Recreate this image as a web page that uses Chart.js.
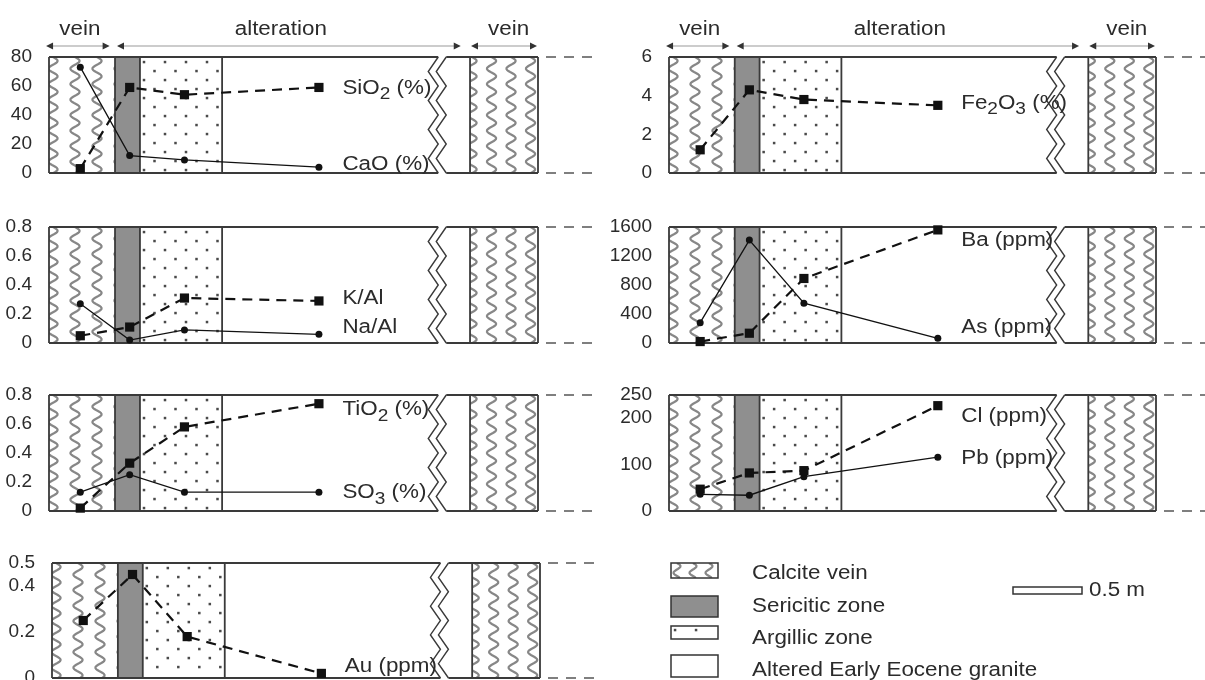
<!DOCTYPE html>
<html>
<head>
<meta charset="utf-8">
<script src="https://cdn.jsdelivr.net/npm/chart.js@4.4.1/dist/chart.umd.min.js"></script>
<style>
html, body { margin: 0; padding: 0; background: #fff; overflow: hidden; }
#wrap { position: relative; width: 1205px; height: 680px; overflow: hidden; }
canvas { position: absolute; }
</style>
</head>
<body>
<div id="wrap"></div>
<script>
// ===== data =====
// sample position along the traverse (0..100 across each panel)
const SAMPLE_X = [6.4, 16.5, 27.7, 55.2];

const SIO2 = [3, 59, 54, 59];
const CAO = [73, 12, 9, 4];
const FE2O3 = [1.2, 4.3, 3.8, 3.5];
const K_AL = [0.05, 0.11, 0.31, 0.29];
const NA_AL = [0.27, 0.02, 0.09, 0.06];
const BA = [20, 135, 890, 1560];
const AS = [280, 1420, 550, 65];
const TIO2 = [0.02, 0.33, 0.58, 0.74];
const SO3 = [0.13, 0.25, 0.13, 0.13];
const CL = [47, 82, 87, 227];
const PB = [36, 34, 74, 116];
const AU = [0.25, 0.45, 0.18, 0.02];

const TICKS_SIO2 = [0, 20, 40, 60, 80];
const TICKS_RATIO = [0, 0.2, 0.4, 0.6, 0.8];
const TICKS_AU = [0, 0.2, 0.4, 0.5];
const TICKS_FE = [0, 2, 4, 6];
const TICKS_BA = [0, 400, 800, 1200, 1600];
const TICKS_CL = [0, 100, 200, 250];

const HEADER = ['vein', 'alteration', 'vein'];
const LEGEND = ['Calcite vein', 'Sericitic zone', 'Argillic zone', 'Altered Early Eocene granite'];
const SCALE_TEXT = '0.5 m';

// ===== layout / style =====
const FONT = "'Liberation Sans', Arial, sans-serif";
const TXT = '#2b2b2b';
const SX = 1.12; // the scanned lettering is a bit wide
const ZONE = { veinEnd: 13.5, serEnd: 18.6, argEnd: 35.4, brk: 79.6, vein2: 86.1, end: 100 };
const BRK_GAP = 8, BRK_AMP = 10, BRK_N = 8;
const LABEL_X = 60;
const HEAD_X = [6.3, 47.4, 94];
const HEAD_ARROWS = [[-0.6, 12.4], [13.9, 84.2], [86.3, 99.8]];

const PANELS = [
  { box: [0, 0, 600, 186], area: [49, 57, 538, 173], yMax: 80, ticks: TICKS_SIO2, header: true,
    series: [[SIO2, 'sq'], [CAO, 'ci']],
    labels: [[[['SiO'], ['2', 1], [' (%)']], 58.6], [[['CaO (%)']], 6.2]] },
  { box: [0, 197, 600, 159], area: [49, 227, 538, 343], yMax: 0.8, ticks: TICKS_RATIO,
    series: [[K_AL, 'sq'], [NA_AL, 'ci']],
    labels: [[[['K/Al']], 0.31], [[['Na/Al']], 0.11]] },
  { box: [0, 365, 600, 159], area: [49, 395, 538, 511], yMax: 0.8, ticks: TICKS_RATIO,
    series: [[TIO2, 'sq'], [SO3, 'ci']],
    labels: [[[['TiO'], ['2', 1], [' (%)']], 0.7], [[['SO'], ['3', 1], [' (%)']], 0.125]] },
  { box: [0, 533, 600, 160], area: [52, 563, 540, 678], yMax: 0.5, ticks: TICKS_AU,
    series: [[AU, 'sq']],
    labels: [[[['Au (ppm)']], 0.048]] },
  { box: [600, 0, 605, 186], area: [669, 57, 1156, 173], yMax: 6, ticks: TICKS_FE, header: true,
    series: [[FE2O3, 'sq']],
    labels: [[[['Fe'], ['2', 1], ['O'], ['3', 1], [' (%)']], 3.6]] },
  { box: [600, 197, 605, 159], area: [669, 227, 1156, 343], yMax: 1600, ticks: TICKS_BA,
    series: [[BA, 'sq'], [AS, 'ci']],
    labels: [[[['Ba (ppm)']], 1420], [[['As (ppm)']], 220]] },
  { box: [600, 365, 605, 159], area: [669, 395, 1156, 511], yMax: 250, ticks: TICKS_CL,
    series: [[CL, 'sq'], [PB, 'ci']],
    labels: [[[['Cl (ppm)']], 204], [[['Pb (ppm)']], 113]] }
];

// ===== drawing helpers =====
function richText(ctx, parts, x, y, size, align) {
  ctx.save();
  ctx.translate(x, y);
  ctx.scale(SX, 1);
  ctx.fillStyle = TXT;
  ctx.textBaseline = 'middle';
  ctx.textAlign = 'left';
  const fontOf = sub => (sub ? Math.round(size * 0.85) : size) + 'px ' + FONT;
  let w = 0;
  parts.forEach(([s, sub]) => { ctx.font = fontOf(sub); w += ctx.measureText(s).width; });
  let cx = align === 'center' ? -w / 2 : 0;
  parts.forEach(([s, sub]) => {
    ctx.font = fontOf(sub);
    ctx.fillText(s, cx, sub ? size * 0.32 : 0);
    cx += ctx.measureText(s).width;
  });
  ctx.restore();
}

function drawWaves(ctx, x0, x1, t, b, step, start, amp, period) {
  ctx.save();
  ctx.beginPath(); ctx.rect(x0, t, x1 - x0, b - t); ctx.clip();
  ctx.strokeStyle = '#878787'; ctx.lineWidth = 2.2;
  for (let cx = x0 + start; cx < x1 + 8; cx += step) {
    ctx.beginPath();
    for (let y = t; y <= b; y += 1) {
      const x = cx + amp * Math.sin((y - t) / period * 2 * Math.PI);
      if (y === t) ctx.moveTo(x, y); else ctx.lineTo(x, y);
    }
    ctx.stroke();
  }
  ctx.restore();
}

function drawDots(ctx, x0, x1, t, b) {
  ctx.fillStyle = '#4a4a4a';
  let row = 0;
  for (let y = t + 5; y < b - 2; y += 9, row++) {
    for (let x = x0 + 4 + (row % 2) * 10.5; x < x1 - 2; x += 21) ctx.fillRect(x - 1.2, y - 1.2, 2.5, 2.5);
  }
}

function zigzag(ctx, x, t, b) {
  ctx.beginPath();
  for (let i = 0; i <= BRK_N; i++) {
    const y = t + (b - t) * i / BRK_N;
    const xx = x - (i % 2 ? BRK_AMP : 0);
    if (i === 0) ctx.moveTo(xx, y); else ctx.lineTo(xx, y);
  }
  ctx.stroke();
}

function arrow(ctx, x0, x1, y) {
  ctx.strokeStyle = '#999'; ctx.lineWidth = 1;
  ctx.beginPath(); ctx.moveTo(x0 + 4, y); ctx.lineTo(x1 - 4, y); ctx.stroke();
  ctx.fillStyle = '#333';
  ctx.beginPath(); ctx.moveTo(x0, y); ctx.lineTo(x0 + 7, y - 3.5); ctx.lineTo(x0 + 7, y + 3.5); ctx.fill();
  ctx.beginPath(); ctx.moveTo(x1, y); ctx.lineTo(x1 - 7, y - 3.5); ctx.lineTo(x1 - 7, y + 3.5); ctx.fill();
}

function panelPlugin(p) {
  return {
    id: 'zones',
    beforeDatasetsDraw(chart) {
      const { ctx, chartArea: a, scales: { x } } = chart;
      const px = v => x.getPixelForValue(v);
      const t = a.top, b = a.bottom;
      const xv = px(0), xs = px(ZONE.veinEnd), xa = px(ZONE.serEnd), xg = px(ZONE.argEnd);
      const xb = px(ZONE.brk), xr = px(ZONE.vein2), xe = px(ZONE.end);
      ctx.save();
      drawWaves(ctx, xv, xs, t, b, 22, 4, 4.6, 15.5);
      drawWaves(ctx, xr, xe, t, b, 19.5, 2, 4.6, 15.5);
      ctx.fillStyle = '#8f8f8f';
      ctx.fillRect(xs, t, xa - xs, b - t);
      drawDots(ctx, xa, xg, t, b);
      // frame with the break
      ctx.strokeStyle = '#3a3a3a'; ctx.lineWidth = 1.8;
      ctx.beginPath();
      ctx.moveTo(xv, t); ctx.lineTo(xb, t); ctx.moveTo(xb + BRK_GAP, t); ctx.lineTo(xe, t);
      ctx.moveTo(xv, b); ctx.lineTo(xb, b); ctx.moveTo(xb + BRK_GAP, b); ctx.lineTo(xe, b);
      [xv, xs, xa, xg, xr, xe].forEach(xx => { ctx.moveTo(xx, t); ctx.lineTo(xx, b); });
      ctx.stroke();
      ctx.lineWidth = 1.4;
      zigzag(ctx, xb, t, b);
      zigzag(ctx, xb + BRK_GAP, t, b);
      // dashed guides to the right
      ctx.strokeStyle = '#555'; ctx.lineWidth = 1.5; ctx.setLineDash([10, 8]);
      ctx.beginPath();
      ctx.moveTo(xe + 8, t); ctx.lineTo(chart.width, t);
      ctx.moveTo(xe + 8, b); ctx.lineTo(chart.width, b);
      ctx.stroke();
      ctx.restore();
    },
    afterDatasetsDraw(chart) {
      const { ctx, scales: { x, y } } = chart;
      p.labels.forEach(([parts, v]) => richText(ctx, parts, x.getPixelForValue(LABEL_X), y.getPixelForValue(v), 20));
      if (p.header) {
        HEADER.forEach((s, i) => richText(ctx, [[s]], x.getPixelForValue(HEAD_X[i]), 29, 20, 'center'));
        HEAD_ARROWS.forEach(([a0, a1]) => arrow(ctx, x.getPixelForValue(a0), x.getPixelForValue(a1), 46));
      }
    }
  };
}

function mkSeries(vals, kind) {
  const sq = kind === 'sq';
  return {
    data: SAMPLE_X.map((x, i) => ({ x, y: vals[i] })),
    borderColor: '#111', backgroundColor: '#111',
    borderWidth: sq ? 2.2 : 1.3, borderDash: sq ? [10, 7] : [],
    pointStyle: sq ? 'rect' : 'circle', pointRadius: sq ? 6.5 : 3.5,
    pointBackgroundColor: '#111', pointBorderWidth: 0,
    tension: 0, fill: false, clip: false
  };
}

const wrap = document.getElementById('wrap');

PANELS.forEach(p => {
  const [bx, by, bw, bh] = p.box;
  const [al, at, ar, ab] = p.area;
  const cv = document.createElement('canvas');
  cv.width = bw; cv.height = bh;
  cv.style.left = bx + 'px'; cv.style.top = by + 'px';
  cv.style.width = bw + 'px'; cv.style.height = bh + 'px';
  wrap.appendChild(cv);
  new Chart(cv, {
    type: 'line',
    data: { datasets: p.series.map(([v, k]) => mkSeries(v, k)) },
    options: {
      responsive: false, animation: false, events: [],
      layout: { autoPadding: false, padding: { left: 0, top: at - by, right: bx + bw - ar, bottom: by + bh - ab } },
      plugins: { legend: { display: false }, tooltip: { enabled: false } },
      scales: {
        x: { type: 'linear', min: 0, max: 100, display: false },
        y: {
          min: 0, max: p.yMax,
          afterBuildTicks: s => { s.ticks = p.ticks.map(v => ({ value: v })); },
          afterFit: s => { s.width = al - bx; s.paddingTop = 0; s.paddingBottom = 0; },
          grid: { display: false }, border: { display: false },
          ticks: { color: TXT, padding: 9, font: { family: FONT, size: 19 }, callback: v => String(v) }
        }
      }
    },
    plugins: [panelPlugin(p)]
  });
});

// ===== key and scale bar =====
(function legend() {
  const ox = 640, oy = 540;
  const cv = document.createElement('canvas');
  cv.width = 565; cv.height = 140;
  cv.style.left = ox + 'px'; cv.style.top = oy + 'px';
  wrap.appendChild(cv);
  const ctx = cv.getContext('2d');
  ctx.translate(-ox, -oy);
  const bx0 = 671, bx1 = 718;
  const rows = [[563, 578, 573], [596, 617, 606], [626, 639, 638], [655, 677, 670]];
  rows.forEach(([t, b, ty], i) => {
    if (i === 0) drawWaves(ctx, bx0, bx1, t, b, 16, 6, 3.5, 13);
    if (i === 1) { ctx.fillStyle = '#8f8f8f'; ctx.fillRect(bx0, t, bx1 - bx0, b - t); }
    if (i === 2) drawDots(ctx, bx0, bx1, t - 1, b + 1);
    ctx.strokeStyle = '#333'; ctx.lineWidth = 1.5;
    ctx.strokeRect(bx0, t, bx1 - bx0, b - t);
    richText(ctx, [[LEGEND[i]]], 752, ty, 20);
  });
  ctx.strokeStyle = '#333'; ctx.lineWidth = 1.5;
  ctx.strokeRect(1013, 587, 69, 7);
  richText(ctx, [[SCALE_TEXT]], 1089, 590, 20);
})();
</script>
</body>
</html>
